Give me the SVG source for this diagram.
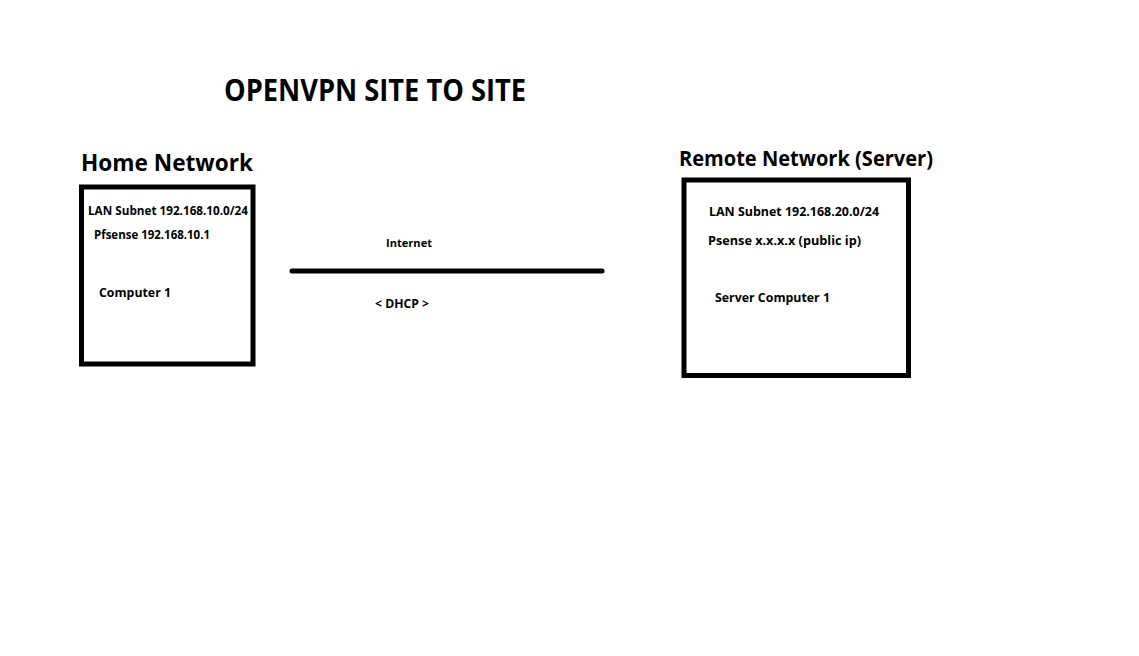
<svg xmlns="http://www.w3.org/2000/svg" width="1139" height="656" viewBox="0 0 1139 656">
<style>
text{font-family:"Open Sans","Liberation Sans",sans-serif;font-weight:700;fill:#000}
.box{fill:#fff;stroke:#000;stroke-width:5}
.t1{font-size:30px}
.t2{font-size:23px}
.t3{font-size:21px}
.s{font-size:12px}
.xs{font-size:11px}
</style>
<rect width="1139" height="656" fill="#fff"/>
<text class="t1" x="224" y="101" textLength="302" lengthAdjust="spacingAndGlyphs">OPENVPN SITE TO SITE</text>
<g id="home">
<text class="t2" x="81" y="171" textLength="172" lengthAdjust="spacingAndGlyphs">Home Network</text>
<rect class="box" x="81.5" y="187" width="171.5" height="177"/>
<text class="s" x="88" y="215" textLength="160" lengthAdjust="spacingAndGlyphs">LAN Subnet 192.168.10.0/24</text>
<text class="s" x="94" y="239" textLength="116" lengthAdjust="spacingAndGlyphs">Pfsense 192.168.10.1</text>
<text class="s" x="99" y="297" textLength="72" lengthAdjust="spacingAndGlyphs">Computer 1</text>
</g>
<g id="remote">
<text class="t3" x="679" y="166" textLength="254" lengthAdjust="spacingAndGlyphs">Remote Network (Server)</text>
<rect class="box" x="684" y="180" width="224.5" height="195.5"/>
<text class="s" x="709" y="216" textLength="170" lengthAdjust="spacingAndGlyphs">LAN Subnet 192.168.20.0/24</text>
<text class="s" x="708" y="245" textLength="153" lengthAdjust="spacingAndGlyphs">Psense x.x.x.x (public ip)</text>
<text class="s" x="715" y="302" textLength="115" lengthAdjust="spacingAndGlyphs">Server Computer 1</text>
</g>
<g id="connectors">
<line x1="292" y1="271" x2="602" y2="271" stroke="#000" stroke-width="5" stroke-linecap="round"/>
<text class="xs" x="386" y="247" textLength="46" lengthAdjust="spacingAndGlyphs">Internet</text>
<text class="s" x="375" y="308" textLength="54" lengthAdjust="spacingAndGlyphs">&lt; DHCP &gt;</text>
</g>
</svg>
